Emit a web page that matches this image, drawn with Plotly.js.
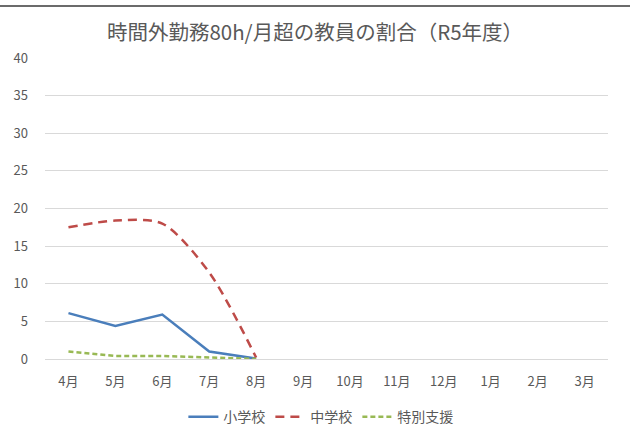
<!DOCTYPE html>
<html>
<head>
<meta charset="utf-8">
<script src="https://cdn.plot.ly/plotly-3.0.1.min.js"></script>
<style>
html,body{margin:0;padding:0;background:#fff;}
#wrap{position:relative;width:630px;height:446px;}
#chart{width:630px;height:446px;}
#topline{position:absolute;left:0;top:5px;width:630px;height:2px;background:#6b6b6b;}
</style>
</head>
<body>
<div id="wrap"><div id="chart"></div><div id="topline"></div></div>
<script>
const months = ["4月","5月","6月","7月","8月","9月","10月","11月","12月","1月","2月","3月"];
const elementary = [6.1, 4.4, 5.9, 1.0, 0.05];
const juniorHigh = [17.5, 18.4, 18.0, 11.5, 0.2];
const special = [1.0, 0.4, 0.4, 0.2, 0.0];
const seriesNames = ["小学校","中学校","特別支援"];
const yTicks = [0,5,10,15,20,25,30,35,40];

const font = "'Noto Sans CJK JP', 'Noto Sans', sans-serif";
const traces = [
  {x: months.slice(0, elementary.length), y: elementary, name: seriesNames[0], type:'scatter', mode:'lines',
   line:{color:'#4A7EBB', width:2.5}},
  {x: months.slice(0, juniorHigh.length), y: juniorHigh, name: seriesNames[1], type:'scatter', mode:'lines',
   line:{color:'#BE4B48', width:2.5, dash:'9px,6px', shape:'spline', smoothing:0.8}},
  {x: months.slice(0, special.length), y: special, name: seriesNames[2], type:'scatter', mode:'lines',
   line:{color:'#98B954', width:2.5, dash:'5px,3px'}}
];
const layout = {
  width:630, height:446,
  margin:{l:45, r:22, t:58, b:87},
  paper_bgcolor:'#fff', plot_bgcolor:'#fff',
  title:{text:'時間外勤務80h/月超の教員の割合（R5年度）', x:0.5, xanchor:'center', y:0.926, yanchor:'middle',
    font:{family:font, size:20.5, color:'#595959'}},
  xaxis:{type:'category', categoryorder:'array', categoryarray:months, range:[-0.5, 11.5],
    tickvals:months, ticktext:months, showgrid:false, zeroline:false, showline:false,
    tickfont:{family:font, size:13, color:'#595959'}, ticks:'', ticklabelstandoff:13, fixedrange:true},
  yaxis:{range:[0,40], tickvals:yTicks, showgrid:true, gridcolor:'#D9D9D9', gridwidth:1, zeroline:true,
    zerolinecolor:'#D9D9D9', zerolinewidth:1, showline:false, ticks:'', ticklabelstandoff:16,
    tickfont:{family:font, size:13, color:'#595959'}, fixedrange:true},
  showlegend:true,
  legend:{orientation:'h', x:0.49, xanchor:'center', y:-0.193, yanchor:'middle',
    font:{family:font, size:14, color:'#595959'}, itemwidth:30, tracegroupgap:0},
};
Plotly.newPlot('chart', traces, layout, {displayModeBar:false, staticPlot:true});
</script>
</body>
</html>
